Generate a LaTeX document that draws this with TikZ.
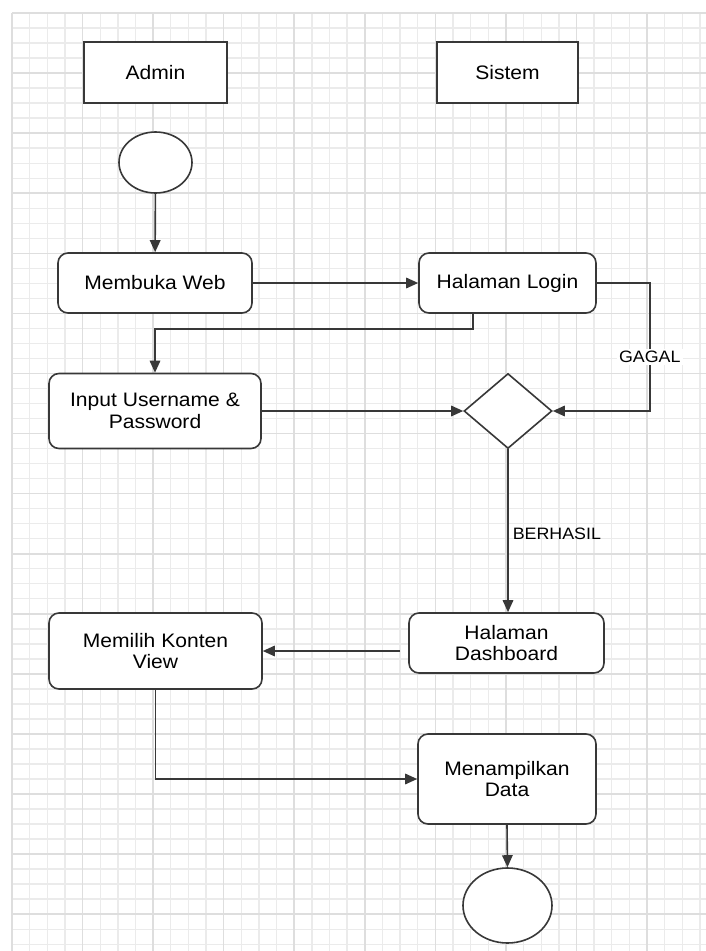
\documentclass[tikz,border=0pt]{standalone}
\usepackage{fontspec}
\setmainfont{Liberation Sans}[FakeStretch=1.08]
\usetikzlibrary{shapes.geometric,arrows.meta}
\definecolor{gmin}{HTML}{EBEBEB}
\definecolor{gmaj}{HTML}{DEDEDE}
\definecolor{ln}{HTML}{383838}
\newcommand\bigfnt{\fontsize{19.5}{21.5}\selectfont}
\newcommand\smallfnt{\fontsize{16.5}{19}\selectfont}
\begin{document}
\begin{tikzpicture}[x=1pt,y=-1pt,
  shp/.style={draw=ln, line width=1.6pt, fill=white, inner sep=0pt, align=center, font=\bigfnt},
  rbox/.style={shp, rectangle, rounded corners=10pt},
  sbox/.style={shp, rectangle},
  oval/.style={shp, ellipse},
  dia/.style={shp, diamond},
  arr/.style={draw=ln, line width=1.6pt, -{Triangle[length=12pt,width=10.5pt]}},
  lbl/.style={font=\smallfnt, inner sep=2pt}]
\useasboundingbox (0,0) rectangle (706,951);
\fill[white] (0,0) rectangle (706,951);
% grid
\foreach \i in {0,...,39} {
  \pgfmathsetmacro\xx{12+17.64*\i}
  \draw[gmin, line width=1.4pt] (\xx,13) -- (\xx,951);
}
\foreach \j in {0,...,62} {
  \pgfmathsetmacro\yy{13+15.02*\j}
  \draw[gmin, line width=1.4pt] (12,\yy) -- (706,\yy);
}
\foreach \k in {0,...,9} {
  \pgfmathsetmacro\xx{12+70.56*\k}
  \draw[gmaj, line width=1.6pt] (\xx,13) -- (\xx,951);
}
\foreach \k in {0,...,15} {
  \pgfmathsetmacro\yy{13+60.08*\k}
  \draw[gmaj, line width=1.6pt] (12,\yy) -- (706,\yy);
}
% nodes
\node[sbox, minimum width=143pt, minimum height=61pt] (admin) at (155.5,72.5) {Admin};
\node[sbox, minimum width=141pt, minimum height=61pt] (sistem) at (507.5,72.5) {Sistem};
\node[oval, minimum width=73pt, minimum height=61pt] (start) at (155.5,162.5) {};
\node[rbox, minimum width=194pt, minimum height=60pt] (web) at (155,283) {Membuka Web};
\node[rbox, minimum width=177pt, minimum height=60pt] (login) at (507.5,283) {Halaman Login};
\node[rbox, minimum width=212pt, minimum height=75pt] (input) at (155,411) {Input Username \&\\Password};
\node[dia, minimum width=88pt, minimum height=75pt] (dec) at (508,411) {};
\node[rbox, minimum width=195pt, minimum height=60pt] (dash) at (506.5,643) {Halaman\\Dashboard};
\node[rbox, minimum width=213pt, minimum height=76pt] (pilih) at (155.5,651) {Memilih Konten\\View};
\node[rbox, minimum width=178pt, minimum height=90pt] (tampil) at (507,779) {Menampilkan\\Data};
\node[oval, minimum width=89pt, minimum height=75pt] (end) at (507.5,905.5) {};
% connectors
\draw[arr] (start) -- (web);
\draw[arr] (web) -- (login);
\draw[arr] ([xshift=-34.5pt]login.south) -- ++(0,15) -| (input.north);
\draw[arr] (input.east) -- (input.east -| dec.west);
\draw[arr] (login.east) -- ++(53,0) |- node[lbl, fill=white, pos=0.29] {GAGAL} (dec.east);
\draw[arr] (dec.south) -- node[lbl, anchor=west, pos=0.52, xshift=2pt] {BERHASIL} (dec.south |- dash.north);
\draw[arr, shorten <=8pt] (dash.west |- pilih.east) -- (pilih.east);
\draw[arr] (pilih.south) |- (tampil.west);
\draw[arr] (tampil.south) -- (end.north);
\end{tikzpicture}
\end{document}
